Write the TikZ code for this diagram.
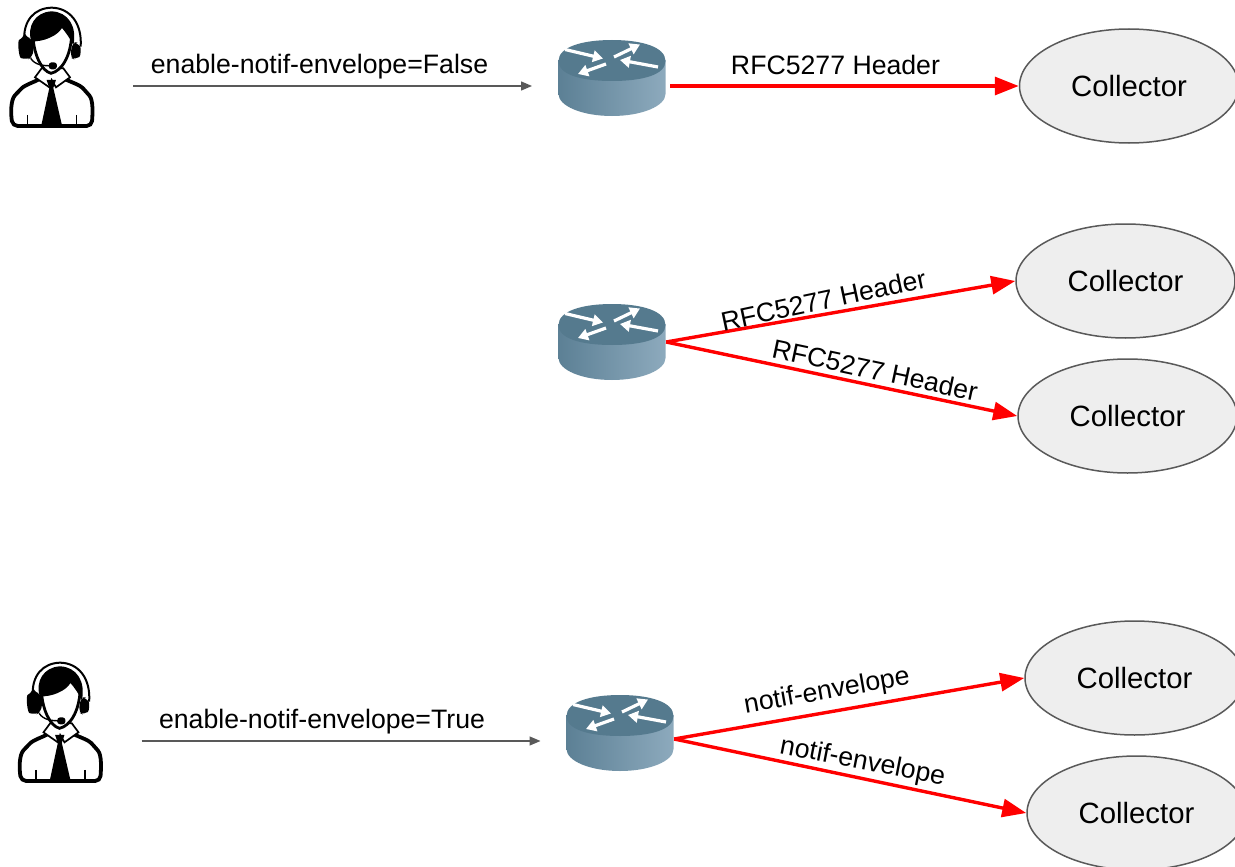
\documentclass[tikz,border=0pt]{standalone}
\usepackage{fontspec}
\setmainfont{Liberation Sans}
\usetikzlibrary{arrows.meta,shapes.geometric}
\definecolor{grayline}{HTML}{595959}
\definecolor{collfill}{HTML}{EEEEEE}
\definecolor{rtop}{HTML}{557A8E}
\definecolor{rleft}{HTML}{5C8095}
\definecolor{rright}{HTML}{8DAABD}
\newcommand{\lblfont}{\fontsize{26.67}{30}\selectfont}
\newcommand{\colfont}{\fontsize{29.33}{33}\selectfont}
\tikzset{
  collector/.style={ellipse,draw=grayline,line width=1.5pt,fill=collfill,minimum width=219pt,minimum height=114pt,inner sep=0pt,font=\colfont},
  redarrow/.style={draw=red,line width=3.4pt,-{Triangle[length=24pt,width=18pt]}},
  grayarrow/.style={draw=grayline,line width=1.4pt,-{Triangle[length=11pt,width=9pt]}},
  lbl/.style={font=\lblfont,inner sep=0pt,text=black},
  hitbox/.style={inner sep=0pt,draw=none,fill=none},
  rarrow/.style={draw=white,line width=3.2pt,-{Triangle[length=10pt,width=11.5pt]}},
  routericon/.pic={
    \shadedraw[draw=none,left color=rleft,right color=rright] (-53.5,-18) -- (-53.5,16) .. controls (-53.5,28) and (-30,38) .. (0,38) .. controls (30,38) and (53.5,28) .. (53.5,16) -- (53.5,-18) -- cycle;
    \fill[rtop] (-53.5,-17) .. controls (-53.5,-31) and (-30,-38) .. (0,-38) .. controls (30,-38) and (53.5,-31) .. (53.5,-17) .. controls (53.5,-3) and (30,3) .. (0,3) .. controls (-30,3) and (-53.5,-3) .. (-53.5,-17) -- cycle;
    \draw[rarrow] (-47,-28.5) -- (-9,-19.5);
    \draw[rarrow] (2,-21) -- (28,-33.5);
    \draw[rarrow] (46,-11) -- (8,-18);
    \draw[rarrow] (-6,-14) -- (-34,-4);
  },
  personicon/.pic={
    \begin{scope}[x=0.3333pt,y=-0.3333pt]
      % headband
      \draw[line width=2pt,fill=none] (73,125) .. controls (68,60) and (105,24) .. (155,23) .. controls (210,24) and (247,70) .. (242,140);
      % body
      \draw[line width=3.8pt,fill=white,rounded corners=5pt] (38,378) .. controls (32,340) and (32,300) .. (55,275) .. controls (75,255) and (105,245) .. (125,232) -- (185,232) .. controls (210,245) and (240,255) .. (258,275) .. controls (280,300) and (278,340) .. (275,378) -- cycle;
      % collar
      \draw[line width=1.7pt,fill=white] (105,232) -- (148,262) -- (155,240) -- (168,262) -- (210,232) -- (190,205) -- (125,205) -- cycle;
      % tie
      \fill (140,240) -- (168,240) -- (160,264) -- (186,376) -- (124,376) -- (148,264) -- cycle;
      % sleeves
      \draw[line width=1.5pt] (82,345) -- (82,376) (229,345) -- (229,376);
      % ear cups
      \fill[rounded corners=6pt] (74,112) -- (100,116) -- (100,170) -- (80,180) .. controls (56,172) and (52,122) .. (74,112) -- cycle;
      \fill[rounded corners=5pt] (218,125) -- (232,128) .. controls (244,145) and (242,168) .. (226,180) -- (210,172) -- cycle;
      % face
      \fill[white] (100,110) .. controls (102,165) and (125,213) .. (153,220) .. controls (185,213) and (212,170) .. (214,105) -- cycle;
      \draw[line width=2.8pt] (99,110) .. controls (102,165) and (125,213) .. (153,220) .. controls (185,213) and (212,170) .. (215,105);
      % hair
      \fill (94,124) .. controls (80,80) and (105,36) .. (155,34) .. controls (205,36) and (232,80) .. (220,136) .. controls (212,118) and (198,98) .. (186,84) .. controls (172,108) and (130,126) .. (94,124) -- cycle;
      % microphone
      \draw[line width=1.4pt] (92,175) .. controls (105,195) and (130,198) .. (155,197);
      \fill[rounded corners=3pt] (146,187) rectangle (171,208);
    \end{scope}
  }
}
\begin{document}
\begin{tikzpicture}[x=1pt,y=-1pt]
\useasboundingbox (0,0) rectangle (1235,867);
\clip (0,0) rectangle (1235,867);

% people
\pic at (0,0) {personicon};
\pic at (8.5,655) {personicon};
\node[hitbox,minimum width=84pt,minimum height=120pt] (p1) at (52,68) {};
\node[hitbox,minimum width=84pt,minimum height=120pt] (p2) at (60.5,723) {};

% routers
\pic at (612,78) {routericon};
\pic at (612,342) {routericon};
\pic at (620,733) {routericon};
\node[hitbox,minimum width=116pt,minimum height=10pt] (r1) at (612,86) {};
\node[hitbox,minimum width=108pt,minimum height=10pt] (r2) at (612,342) {};
\node[hitbox,minimum width=108pt,minimum height=10pt] (r3) at (620,739) {};

% collectors
\node[collector] (c1) at (1129,86) {Collector};
\node[collector] (c2) at (1125.5,281) {Collector};
\node[collector] (c3) at (1127.5,416) {Collector};
\node[collector] (c4) at (1134.5,678) {Collector};
\node[collector] (c5) at (1136.5,813) {Collector};

% grey connectors
\coordinate (g1s) at (133,86);
\coordinate (g1e) at (532,86);
\coordinate (g2s) at (141.5,741);
\coordinate (g2e) at (540.5,741);
\draw[grayarrow] (g1s) -- (g1e);
\draw[grayarrow] (g2s) -- (g2e);

% red connectors
\draw[redarrow] (r1.east) -- (c1.west);
\draw[redarrow] (r2.east) -- (c2.west);
\draw[redarrow] (r2.east) -- (c3.west);
\draw[redarrow] (r3.east) -- (c4.west);
\draw[redarrow] (r3.east) -- (c5.west);

% labels
\node[lbl] (l1) at (319.5,67) {enable-notif-envelope=False};
\node[lbl] (l2) at (322,722) {enable-notif-envelope=True};
\node[lbl] (l3) at (835.5,64.5) {RFC5277 Header};
\node[lbl,rotate=12] (l4) at (823.5,300) {RFC5277 Header};
\node[lbl,rotate=-12] (l5) at (875,370) {RFC5277 Header};
\node[lbl,rotate=10] (l6) at (827,692) {notif-envelope};
\node[lbl,rotate=-11] (l7) at (862.5,762.5) {notif-envelope};
\end{tikzpicture}
\end{document}
